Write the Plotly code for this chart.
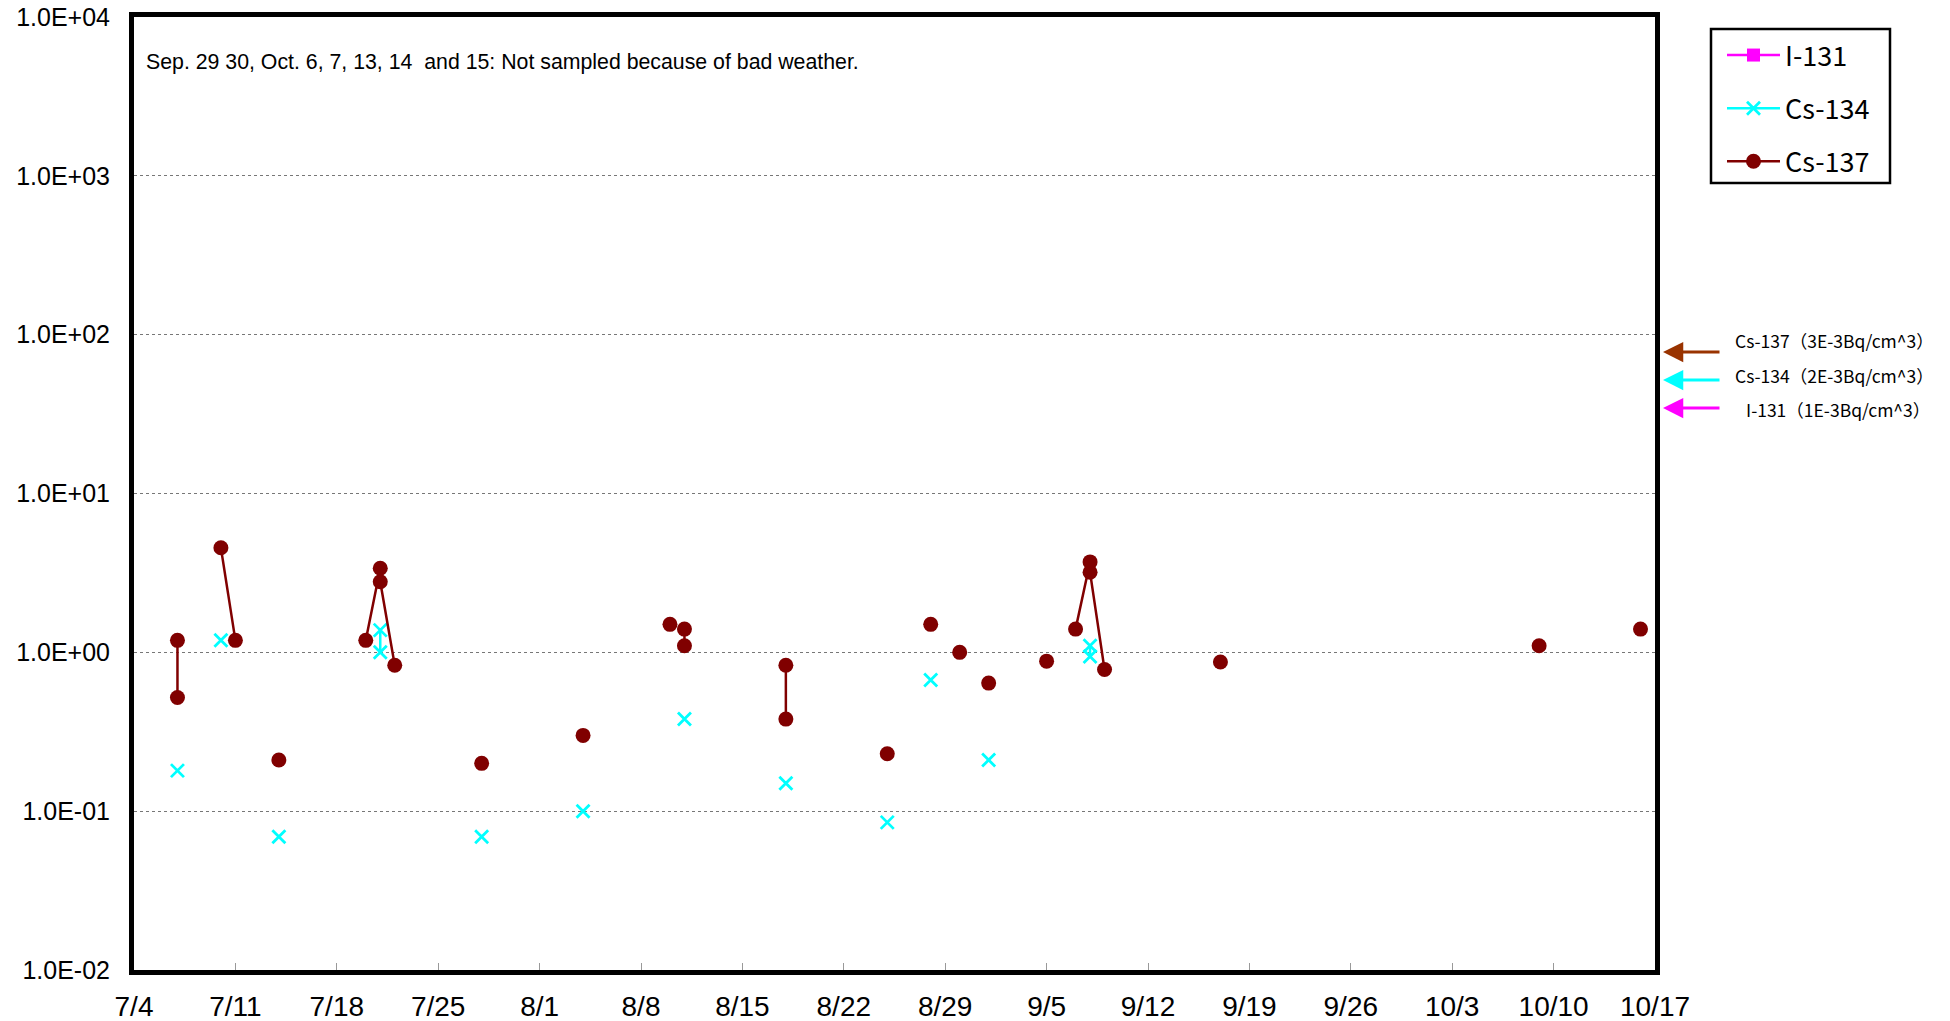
import plotly.graph_objects as go

# ---- data ----
# None entries = blank rows (break the connecting line)
cs137_dates = ['2011-07-07', '2011-07-07', None,
               '2011-07-10', '2011-07-11', None,
               '2011-07-14', None,
               '2011-07-20', '2011-07-21', '2011-07-21', '2011-07-22', None,
               '2011-07-28', None,
               '2011-08-04', None,
               '2011-08-10', None,
               '2011-08-11', '2011-08-11', None,
               '2011-08-18', '2011-08-18', None,
               '2011-08-25', None,
               '2011-08-28', None,
               '2011-08-30', None,
               '2011-09-01', None,
               '2011-09-05', None,
               '2011-09-07', '2011-09-08', '2011-09-08', '2011-09-09', None,
               '2011-09-17', None,
               '2011-10-09', None,
               '2011-10-16']
cs137_values = [1.19, 0.52, None,
                4.55, 1.19, None,
                0.21, None,
                1.19, 3.38, 2.78, 0.83, None,
                0.20, None,
                0.30, None,
                1.50, None,
                1.40, 1.10, None,
                0.83, 0.38, None,
                0.23, None,
                1.50, None,
                1.00, None,
                0.64, None,
                0.88, None,
                1.40, 3.71, 3.19, 0.78, None,
                0.87, None,
                1.10, None,
                1.40]

cs134_dates = ['2011-07-07', None,
               '2011-07-10', None,
               '2011-07-14', None,
               '2011-07-21', '2011-07-21', None,
               '2011-07-28', None,
               '2011-08-04', None,
               '2011-08-11', None,
               '2011-08-18', None,
               '2011-08-25', None,
               '2011-08-28', None,
               '2011-09-01', None,
               '2011-09-08', '2011-09-08']
cs134_values = [0.18, None,
                1.19, None,
                0.069, None,
                1.38, 1.00, None,
                0.069, None,
                0.10, None,
                0.38, None,
                0.15, None,
                0.085, None,
                0.67, None,
                0.21, None,
                1.10, 0.94]

i131_dates = [None]   # not detected
i131_values = [None]

y_tickvals = [0.01, 0.1, 1, 10, 100, 1000, 10000]
y_ticktext = ['1.0E-02', '1.0E-01', '1.0E+00', '1.0E+01', '1.0E+02', '1.0E+03', '1.0E+04']

x_start = '2011-07-04'
x_end = '2011-10-17'

note_text = 'Sep. 29 30, Oct. 6, 7, 13, 14  and 15: Not sampled because of bad weather.'
limit_labels = ['Cs-137（3E-3Bq/cm^3）', 'Cs-134（2E-3Bq/cm^3）', 'I-131（1E-3Bq/cm^3）']
limit_colors = ['#993300', '#00FFFF', '#FF00FF']

# ---- figure ----
W, H = 1950, 1021
# target page-pixel frame: left 134, top 17, right 1655, bottom 970
L, T = 134, 17
R = W - 1655
B = H - 970
pw = W - L - R
ph = H - T - B

def px2paper_x(px):
    return (px - L) / pw

def px2paper_y(py):
    return (H - B - py) / ph

fig = go.Figure()

fig.add_trace(go.Scatter(
    x=i131_dates, y=i131_values, name='I-131', mode='lines+markers',
    legendgroup='a', showlegend=True,
    line=dict(color='#FF00FF', width=2.5),
    marker=dict(symbol='square', size=13, color='#FF00FF')))

fig.add_trace(go.Scatter(
    x=cs134_dates, y=cs134_values, name='Cs-134', mode='lines+markers',
    legendgroup='b', connectgaps=False,
    line=dict(color='#00FFFF', width=2.5),
    marker=dict(symbol='x-thin', size=13, color='#00FFFF',
                line=dict(color='#00FFFF', width=2.8))))

fig.add_trace(go.Scatter(
    x=cs137_dates, y=cs137_values, name='Cs-137', mode='lines+markers',
    legendgroup='c', connectgaps=False,
    line=dict(color='#800000', width=2.5),
    marker=dict(symbol='circle', size=15, color='#800000')))

y_tick_font = dict(family='Liberation Sans Narrow, Liberation Sans, Arial', size=25, color='black')
x_tick_font = dict(family='Liberation Sans Narrow, Liberation Sans, Arial', size=28, color='black')

fig.update_layout(
    width=W, height=H,
    margin=dict(l=L, r=R, t=T, b=B, autoexpand=False),
    paper_bgcolor='white', plot_bgcolor='white',
    showlegend=True,
    legend=dict(
        x=px2paper_x(1722), y=px2paper_y(31), xanchor='left', yanchor='top',
        borderwidth=0, bgcolor='rgba(0,0,0,0)',
        font=dict(family='Noto Sans CJK JP', size=27, color='black'),
        tracegroupgap=15, itemwidth=53,
    ),
    xaxis=dict(
        type='date', range=[x_start, x_end], automargin=False,
        tick0=x_start, dtick=7 * 86400000, tickformat='%-m/%-d',
        showgrid=False, zeroline=False,
        showline=True, linecolor='black', linewidth=5, mirror=True,
        ticks='inside', ticklen=7, tickcolor='#999999', tickwidth=1,
        tickfont=x_tick_font, ticklabelstandoff=7,
    ),
    yaxis=dict(
        type='log', range=[-2, 4], automargin=False,
        tickvals=y_tickvals, ticktext=y_ticktext, ticklabeloverflow='allow',
        showgrid=True, gridcolor='#777777', gridwidth=1, griddash='dot',
        zeroline=False,
        showline=True, linecolor='black', linewidth=5, mirror=True,
        ticks='', tickfont=y_tick_font, ticklabelstandoff=14,
    ),
)

# legend frame
fig.add_shape(type='rect', xref='paper', yref='paper',
              x0=px2paper_x(1711), x1=px2paper_x(1890),
              y0=px2paper_y(183), y1=px2paper_y(29),
              line=dict(color='black', width=2.5), fillcolor='rgba(0,0,0,0)',
              layer='below')

fig.add_annotation(
    x=px2paper_x(144), y=px2paper_y(62), xref='paper', yref='paper',
    text=note_text, showarrow=False, xanchor='left', yanchor='middle',
    font=dict(family='Liberation Sans, Arial', size=21.3, color='black'))

arrow_y = [352, 380, 408]
text_y = [340, 375, 409]
text_x = [1834, 1834, 1838]
for lab, col, ay_, ty, tx in zip(limit_labels, limit_colors, arrow_y, text_y, text_x):
    fig.add_annotation(
        x=px2paper_x(1663), y=px2paper_y(ay_), xref='paper', yref='paper',
        ax=58, ay=0, axref='pixel', ayref='pixel',
        text='', showarrow=True, arrowhead=2, arrowsize=1.35, arrowwidth=3,
        arrowcolor=col)
    fig.add_annotation(
        x=px2paper_x(tx), y=px2paper_y(ty), xref='paper', yref='paper',
        text=lab, showarrow=False, xanchor='center', yanchor='middle',
        font=dict(family='Noto Sans CJK JP', size=17.5, color='black'))

fig.write_html('out.html',
               config={'displayModeBar': False},
               post_script="document.body.style.margin='0';document.body.style.overflow='hidden';")
